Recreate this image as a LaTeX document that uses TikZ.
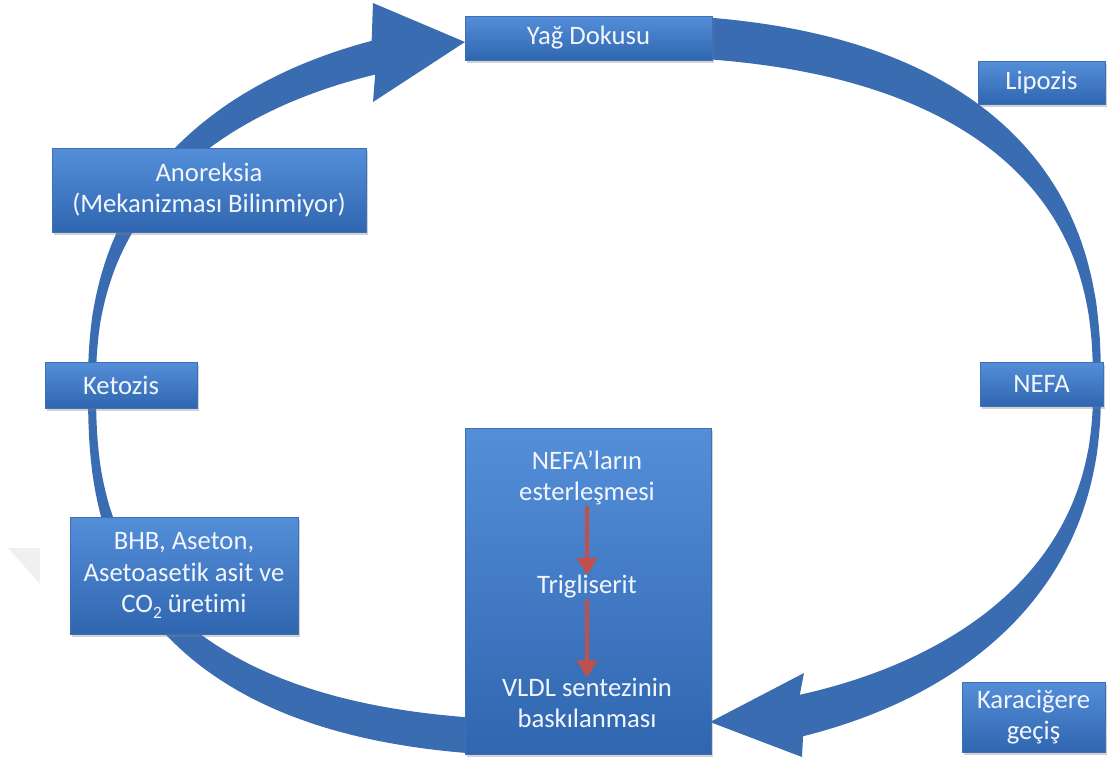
\documentclass[tikz,border=0pt]{standalone}
\usepackage{fontspec}
\setmainfont{Carlito}[Ligatures={NoCommon,NoContextual}]
\usetikzlibrary{arrows.meta,shadows}
\definecolor{ring}{RGB}{58,108,178}
\definecolor{boxtop}{RGB}{84,142,217}
\definecolor{boxbot}{RGB}{48,102,176}
\definecolor{boxedge}{RGB}{62,112,184}
\definecolor{redarr}{RGB}{192,80,77}
\definecolor{txt}{RGB}{242,246,252}
% superellipse helpers: cc(t,p), ss(t,p)
\pgfmathdeclarefunction{cc}{2}{\pgfmathparse{sign(cos(#1))*pow(max(abs(cos(#1)),0.0001),#2)}}
\pgfmathdeclarefunction{ss}{2}{\pgfmathparse{sign(sin(#1))*pow(max(abs(sin(#1)),0.0001),#2)}}
\begin{document}
\begin{tikzpicture}[x=0.75pt,y=-0.75pt,
  box/.style={draw=boxedge, line width=0.6pt, top color=boxtop, bottom color=boxbot,
    text=txt, align=center, inner sep=0pt, font=\fontsize{20}{23.5}\selectfont,
    drop shadow={opacity=0.35, shadow xshift=1.2pt, shadow yshift=-2pt}},
  lbl/.style={text=txt, align=center, inner sep=0pt, font=\fontsize{20}{23.5}\selectfont},
  redarrow/.style={draw=redarr, line width=3pt, -{Triangle[width=15pt,length=13pt]}},
  ringfill/.style={fill=ring}]
\useasboundingbox (0,0) rectangle (1108,765);

% faint watermark corner
\fill[black!6] (8,548) -- (40,548) -- (40,584) -- cycle;

% left curved arrow (towards Yag Dokusu)
\fill[ringfill]
     plot[domain=263:180, samples=60, variable=\t] ({594.5+506.5*cc(\t,0.77)},{387-370*ss(\t,0.77)})
  -- plot[domain=180:112.4, samples=60, variable=\t] ({594.5+506.5*cc(\t,0.851)},{387-370*ss(\t,0.851)})
  -- (373,3) -- (465,42) -- (373,102)
  -- plot[domain=112.4:180, samples=60, variable=\t] ({594.5+498.5*cc(\t,0.851)},{387-334*ss(\t,0.851)})
  -- plot[domain=180:263, samples=60, variable=\t] ({594.5+498.5*cc(\t,0.77)},{387-334*ss(\t,0.77)})
  -- cycle;

% right curved arrow (towards liver box)
\fill[ringfill]
     plot[domain=82:0, samples=70, variable=\t] ({594.5+506.5*cc(\t,0.8)},{387-373*ss(\t,0.8)})
  -- plot[domain=0:-68.86, samples=70, variable=\t] ({594.5+506.5*cc(\t,0.87)},{387-371*ss(\t,0.87)})
  -- (802,757) -- (710,722) -- (804,673)
  -- plot[domain=-68.86:0, samples=70, variable=\t] ({594.5+498.5*cc(\t,0.87)},{387-327*ss(\t,0.87)})
  -- plot[domain=0:82, samples=70, variable=\t] ({594.5+498.5*cc(\t,0.8)},{387-331*ss(\t,0.8)})
  -- cycle;

% boxes
\node[box, minimum width=185.25pt, minimum height=33pt] (yag) at (588.5,38) {Yağ Dokusu};
\node[box, minimum width=95.25pt, minimum height=32.25pt] (lip) at (1041.5,82.5) {Lipozis};
\node[box, minimum width=235.5pt, minimum height=63pt] (ano) at (209,190) {Anoreksia\\(Mekanizması Bilinmiyor)};
\node[box, minimum width=114pt, minimum height=34.5pt] (ket) at (121,385) {Ketozis};
\node[box, minimum width=92.25pt, minimum height=33pt] (nefa) at (1041.5,384) {NEFA};
\node[box, minimum width=184.5pt, minimum height=244.5pt] (liver) at (588,591) {};
\node[box, minimum width=171pt, minimum height=87.75pt] (bhb) at (184,575.5) {BHB, Aseton,\\Asetoasetik asit ve\\CO\raisebox{-0.45ex}{\fontsize{13}{13}\selectfont 2} üretimi};
\node[box, minimum width=107.25pt, minimum height=52.5pt] (kar) at (1033.5,717) {Karaciğere\\geçiş};

% texts inside liver box
\node[lbl] (est) at (587,478) {NEFA’ların\\esterleşmesi};
\node[lbl] (tg) at (587,587) {Trigliserit};
\node[lbl] (vldl) at (587,703) {VLDL sentezinin\\baskılanması};
\draw[redarrow] (est.south) -- (tg.north);
\draw[redarrow] (tg.south) -- (vldl.north);
\end{tikzpicture}
\end{document}
